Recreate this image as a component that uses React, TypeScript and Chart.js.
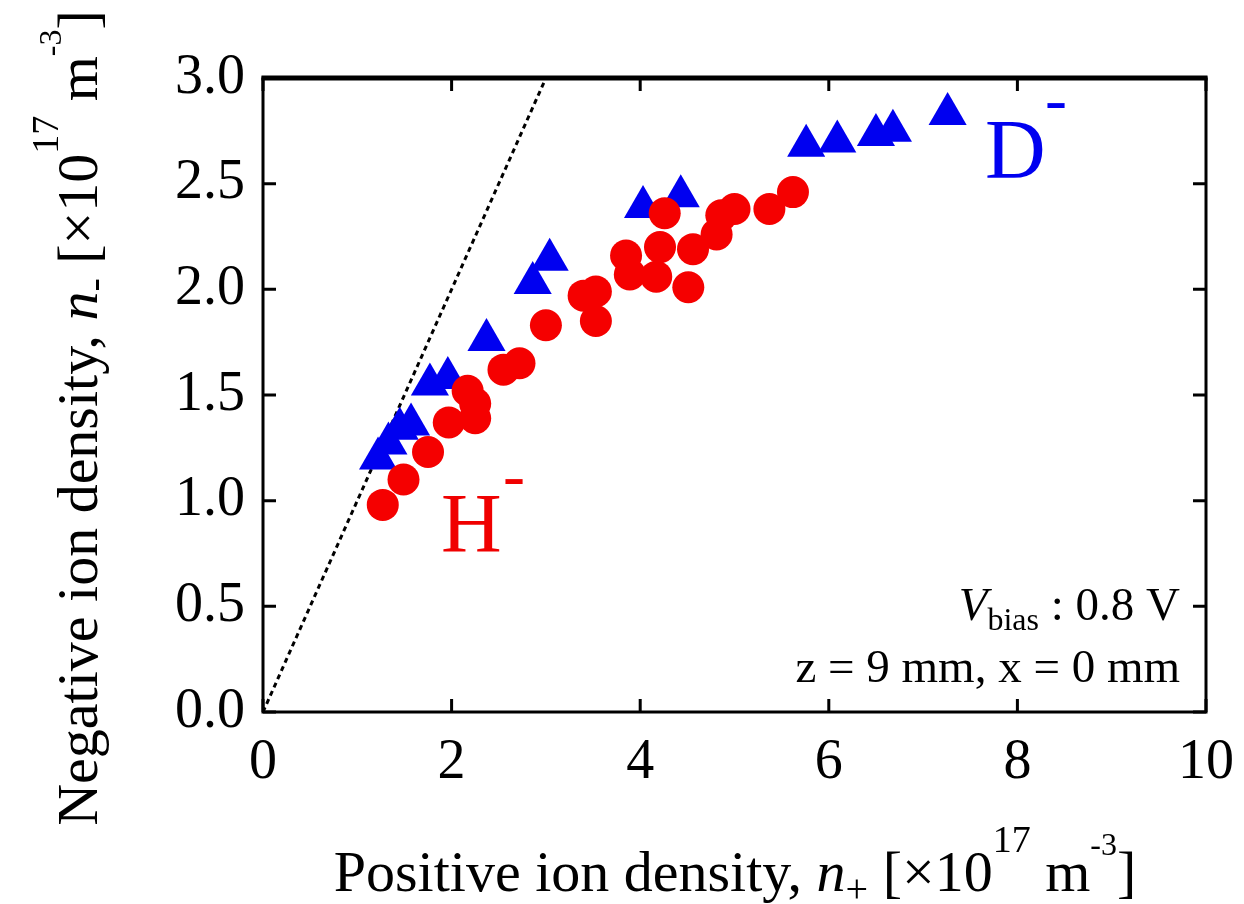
import React, { useEffect, useRef } from 'react';
import { Chart, registerables } from 'chart.js';

Chart.register(...registerables);

const FAMILY = "'Liberation Serif', 'Times New Roman', serif";

// H- (red circles): positive ion density vs negative ion density
const hMinusX = [1.27, 1.49, 1.75, 1.97, 2.17, 2.25, 2.25, 2.55, 2.72, 3.0, 3.4, 3.53, 3.53, 3.85, 3.89, 4.17, 4.21, 4.26, 4.51, 4.56, 4.81, 4.86, 5.0, 5.37, 5.62];
const hMinusY = [0.98, 1.1, 1.23, 1.37, 1.52, 1.46, 1.39, 1.62, 1.65, 1.83, 1.97, 1.99, 1.85, 2.16, 2.07, 2.06, 2.2, 2.36, 2.01, 2.19, 2.26, 2.35, 2.38, 2.38, 2.46];

// D- (blue triangles)
const dMinusX = [1.22, 1.33, 1.45, 1.57, 1.77, 1.96, 2.37, 2.86, 3.04, 4.03, 4.43, 5.76, 6.09, 6.5, 6.68, 7.26];
const dMinusY = [1.2, 1.27, 1.34, 1.36, 1.55, 1.58, 1.76, 2.03, 2.14, 2.39, 2.44, 2.68, 2.7, 2.73, 2.75, 2.83];

// reference line n- = n+
const refLineX = [0, 3];
const refLineY = [0, 3];

const xTickValues = [0, 2, 4, 6, 8, 10];
const yTickValues = [0, 0.5, 1.0, 1.5, 2.0, 2.5, 3.0];

type Seg = { t: string; size: number; italic?: boolean; dy?: number };

function drawRich(
  ctx: CanvasRenderingContext2D,
  segs: Seg[],
  x: number,
  y: number,
  align: 'left' | 'center' | 'right',
  color: string
) {
  const fontOf = (s: Seg) => `${s.italic ? 'italic ' : ''}${s.size}px ${FAMILY}`;
  const widths: number[] = [];
  let total = 0;
  for (const s of segs) {
    ctx.font = fontOf(s);
    const w = ctx.measureText(s.t).width;
    widths.push(w);
    total += w;
  }
  let cx = align === 'left' ? x : align === 'center' ? x - total / 2 : x - total;
  ctx.fillStyle = color;
  ctx.textAlign = 'left';
  ctx.textBaseline = 'alphabetic';
  segs.forEach((s, i) => {
    ctx.font = fontOf(s);
    ctx.fillText(s.t, cx, y + (s.dy || 0));
    cx += widths[i];
  });
}

const framePlugin = {
  id: 'frame',
  afterDraw(chart: any) {
    const { ctx, chartArea, scales } = chart;
    const { left, right, top, bottom } = chartArea;
    ctx.save();
    ctx.strokeStyle = '#000';
    ctx.lineCap = 'butt';
    // inward ticks
    ctx.lineWidth = 3;
    const tl = 13;
    for (const v of xTickValues) {
      const px = scales.x.getPixelForValue(v);
      ctx.beginPath();
      ctx.moveTo(px, bottom);
      ctx.lineTo(px, bottom - tl);
      ctx.moveTo(px, top);
      ctx.lineTo(px, top + tl);
      ctx.stroke();
    }
    for (const v of yTickValues) {
      const py = scales.y.getPixelForValue(v);
      ctx.beginPath();
      ctx.moveTo(left, py);
      ctx.lineTo(left + tl, py);
      ctx.moveTo(right, py);
      ctx.lineTo(right - tl, py);
      ctx.stroke();
    }
    // frame
    ctx.lineWidth = 3;
    ctx.strokeRect(left, top, right - left, bottom - top);
    ctx.lineWidth = 5;
    ctx.beginPath();
    ctx.moveTo(left - 1.5, top);
    ctx.lineTo(right + 1.5, top);
    ctx.stroke();

    // axis titles
    drawRich(
      ctx,
      [
        { t: 'Positive ion density, ', size: 58 },
        { t: 'n', size: 58, italic: true },
        { t: '+', size: 40, dy: 11 },
        { t: ' [×10', size: 58 },
        { t: '17', size: 38, dy: -39 },
        { t: ' m', size: 58 },
        { t: '-3', size: 32, dy: -36 },
        { t: ']', size: 58 },
      ],
      735,
      891,
      'center',
      '#000'
    );
    ctx.save();
    ctx.translate(97, 418);
    ctx.rotate(-Math.PI / 2);
    drawRich(
      ctx,
      [
        { t: 'Negative ion density, ', size: 58 },
        { t: 'n', size: 58, italic: true },
        { t: '-', size: 40, dy: 10 },
        { t: ' [×10', size: 58 },
        { t: '17', size: 38, dy: -39 },
        { t: ' m', size: 58 },
        { t: '-3', size: 32, dy: -36 },
        { t: ']', size: 58 },
      ],
      0,
      0,
      'center',
      '#000'
    );
    ctx.restore();

    // species labels
    drawRich(ctx, [{ t: 'H', size: 84 }], 441, 552, 'left', 'rgb(240,0,0)');
    drawRich(ctx, [{ t: '-', size: 66 }], 503, 497, 'left', 'rgb(240,0,0)');
    drawRich(ctx, [{ t: 'D', size: 84 }], 985, 178, 'left', 'rgb(0,0,240)');
    drawRich(ctx, [{ t: '-', size: 66 }], 1045, 121, 'left', 'rgb(0,0,240)');

    // conditions
    drawRich(
      ctx,
      [
        { t: 'V', size: 47, italic: true },
        { t: 'bias', size: 32, dy: 10 },
        { t: ' : 0.8 V', size: 47 },
      ],
      1180,
      620,
      'right',
      '#000'
    );
    drawRich(ctx, [{ t: 'z = 9 mm, x = 0 mm', size: 47 }], 1180, 682, 'right', '#000');
    ctx.restore();
  },
};

export default function App() {
  const canvasRef = useRef<HTMLCanvasElement | null>(null);

  useEffect(() => {
    const canvas = canvasRef.current;
    if (!canvas) return;
    const chart = new Chart(canvas, {
      type: 'scatter',
      data: {
        datasets: [
          {
            label: 'H-',
            data: hMinusX.map((x, i) => ({ x, y: hMinusY[i] })),
            pointStyle: 'circle',
            pointRadius: 16,
            pointHoverRadius: 16,
            pointBorderWidth: 0,
            backgroundColor: 'rgb(245,0,0)',
            borderColor: 'rgb(245,0,0)',
          },
          {
            label: 'D-',
            data: dMinusX.map((x, i) => ({ x, y: dMinusY[i] })),
            pointStyle: 'triangle',
            pointRadius: 22,
            pointHoverRadius: 22,
            pointBorderWidth: 0,
            backgroundColor: 'rgb(0,0,240)',
            borderColor: 'rgb(0,0,240)',
          },
          {
            type: 'line',
            label: 'ref',
            data: refLineX.map((x, i) => ({ x, y: refLineY[i] })),
            showLine: true,
            borderColor: '#000',
            borderWidth: 3,
            borderDash: [5, 4],
            pointRadius: 0,
            fill: false,
          } as any,
        ],
      },
      options: {
        animation: false,
        responsive: true,
        maintainAspectRatio: false,
        events: [],
        layout: { padding: { top: 78, right: 37, left: 0, bottom: 0 } },
        plugins: {
          legend: { display: false },
          tooltip: { enabled: false },
          title: { display: false },
        },
        scales: {
          x: {
            type: 'linear',
            min: 0,
            max: 10,
            afterFit: (s: any) => {
              s.height = 192;
            },
            afterBuildTicks: (s: any) => {
              s.ticks = xTickValues.map((v) => ({ value: v }));
            },
            grid: { display: false },
            border: { display: false },
            ticks: {
              font: { family: FAMILY, size: 56 },
              color: '#000',
              padding: 10,
              maxRotation: 0,
              autoSkip: false,
              callback: (v: any) => String(v),
            },
          },
          y: {
            type: 'linear',
            min: 0,
            max: 3,
            afterFit: (s: any) => {
              s.width = 263;
            },
            afterBuildTicks: (s: any) => {
              s.ticks = yTickValues.map((v) => ({ value: v }));
            },
            grid: { display: false },
            border: { display: false },
            ticks: {
              font: { family: FAMILY, size: 56 },
              color: '#000',
              padding: 10,
              autoSkip: false,
              callback: (v: any) => Number(v).toFixed(1),
            },
          },
        },
      },
      plugins: [framePlugin],
    });
    return () => chart.destroy();
  }, []);

  return (
    <div style={{ position: 'absolute', left: 0, top: 0, width: 1244, height: 904, background: '#fff' }}>
      <canvas ref={canvasRef} />
    </div>
  );
}
